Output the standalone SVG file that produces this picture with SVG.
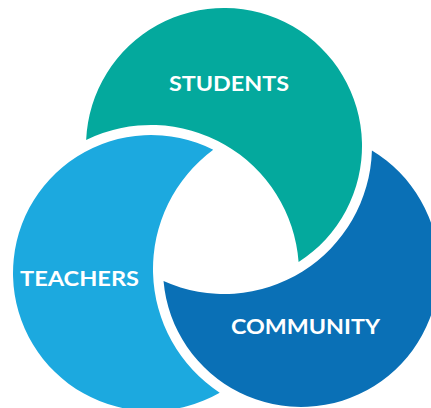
<svg xmlns="http://www.w3.org/2000/svg" width="431" height="408" viewBox="0 0 431 408">
  <style>
    .label { font-family: Lato, "Open Sans", "Liberation Sans", sans-serif; font-weight: 700; font-size: 21px; fill: #ffffff; }
    .students { fill: #04a99d; }
    .teachers { fill: #1ca9df; }
    .community { fill: #0a70b6; }
  </style>
  <rect width="431" height="408" fill="#ffffff"/>
  <!-- Each ring is a circle (r=138) with a 10px-wide bite cut by its neighbour -->
  <g id="students">
    <path class="students" d="M86.14,139.98 A138,138 0 1 1 298.6,262.1 A148,148 0 0 0 86.14,139.98 Z"/>
    <text class="label" x="169" y="91" textLength="120" lengthAdjust="spacingAndGlyphs">STUDENTS</text>
  </g>
  <g id="teachers">
    <path class="teachers" d="M213.24,149.82 A138,138 0 1 0 219.71,392.68 A148,148 0 0 1 213.24,149.82 Z"/>
    <text class="label" x="20" y="286" textLength="119" lengthAdjust="spacingAndGlyphs">TEACHERS</text>
  </g>
  <g id="community">
    <path class="community" d="M371.93,150.62 A138,138 0 1 1 163.53,281.08 A148,148 0 0 0 371.93,150.62 Z"/>
    <text class="label" x="231" y="334" textLength="149" lengthAdjust="spacingAndGlyphs">COMMUNITY</text>
  </g>
  <g id="connectors"/>
</svg>
